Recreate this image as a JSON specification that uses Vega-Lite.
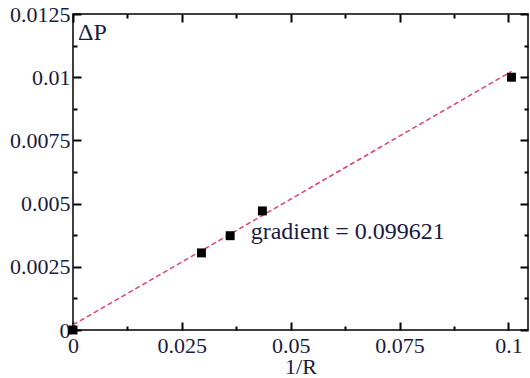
{
  "$schema": "https://vega.github.io/schema/vega-lite/v6.json",
  "width": 455,
  "height": 316,
  "autosize": {"type": "none"},
  "padding": {"left": 73, "top": 14, "right": 2, "bottom": 48},
  "background": "white",
  "resolve": {"axis": {"x": "independent", "y": "independent"}},
  "config": {
    "view": {"stroke": "black", "strokeWidth": 1.5},
    "font": "Liberation Serif",
    "axis": {
      "domain": false,
      "labelFont": "Liberation Serif",
      "labelFontSize": 22,
      "labelColor": "#1a1a40",
      "titleFont": "Liberation Serif",
      "titleFontSize": 22,
      "titleFontWeight": "normal",
      "titleColor": "#1a1a40",
      "grid": false
    }
  },
  "datasets": {
    "points": [
      {"x": 0.0, "y": 0.0},
      {"x": 0.0295, "y": 0.00305},
      {"x": 0.0361, "y": 0.00373},
      {"x": 0.0435, "y": 0.00471},
      {"x": 0.1007, "y": 0.0100}
    ],
    "fit": [
      {"x": 0.0, "y": 0.0002},
      {"x": 0.1007, "y": 0.01023}
    ],
    "labels": [
      {"x": 0.00115, "y": 0.01175, "text": "ΔP"},
      {"x": 0.0408, "y": 0.00388, "text": "gradient = 0.099621"}
    ]
  },
  "layer": [
    {
      "data": {"name": "fit"},
      "mark": {"type": "line", "color": "#e23d73", "strokeDash": [5, 3], "strokeWidth": 1.5},
      "encoding": {
        "x": {
          "field": "x", "type": "quantitative",
          "scale": {"domain": [0, 0.1045], "nice": false, "zero": false},
          "axis": {
            "orient": "bottom",
            "title": "1/R",
            "titlePadding": 0,
            "values": [0, 0.025, 0.05, 0.075, 0.1],
            "format": ".4~f",
            "offset": -8,
            "ticks": true,
            "tickColor": "black",
            "tickWidth": 2,
            "tickSize": 8,
            "labelPadding": 5,
            "labelFlush": false
          }
        },
        "y": {
          "field": "y", "type": "quantitative",
          "scale": {"domain": [0, 0.0125], "nice": false, "zero": false},
          "axis": {
            "orient": "left",
            "title": null,
            "values": [0, 0.0025, 0.005, 0.0075, 0.01, 0.0125],
            "format": ".4~f",
            "offset": -8,
            "ticks": true,
            "tickColor": "black",
            "tickWidth": 2,
            "tickSize": 8,
            "labelPadding": 3,
            "labelFlush": false
          }
        }
      }
    },
    {
      "data": {"name": "points"},
      "mark": {"type": "square", "color": "black", "opacity": 0, "size": 1},
      "encoding": {
        "x": {
          "field": "x", "type": "quantitative",
          "axis": {"orient": "bottom", "title": null, "values": [0.0125, 0.0375, 0.0625, 0.0875], "offset": -4, "ticks": true, "tickColor": "black", "tickWidth": 2, "tickSize": 4, "labels": false}
        },
        "y": {
          "field": "y", "type": "quantitative",
          "axis": {"orient": "left", "title": null, "values": [0.00125, 0.00375, 0.00625, 0.00875, 0.01125], "offset": -4, "ticks": true, "tickColor": "black", "tickWidth": 2, "tickSize": 4, "labels": false}
        }
      }
    },
    {
      "data": {"name": "points"},
      "mark": {"type": "square", "color": "black", "opacity": 0, "size": 1},
      "encoding": {
        "x": {
          "field": "x", "type": "quantitative",
          "axis": {"orient": "top", "title": null, "values": [0.0125, 0.0375, 0.0625, 0.0875], "offset": -4, "ticks": true, "tickColor": "black", "tickWidth": 2, "tickSize": 4, "labels": false}
        },
        "y": {
          "field": "y", "type": "quantitative",
          "axis": {"orient": "right", "title": null, "values": [0.00125, 0.00375, 0.00625, 0.00875, 0.01125], "offset": -4, "ticks": true, "tickColor": "black", "tickWidth": 2, "tickSize": 4, "labels": false}
        }
      }
    },
    {
      "data": {"name": "points"},
      "mark": {"type": "square", "color": "black", "opacity": 1, "size": 80},
      "encoding": {
        "x": {
          "field": "x", "type": "quantitative",
          "axis": {"orient": "top", "title": null, "values": [0, 0.025, 0.05, 0.075, 0.1], "offset": -8, "ticks": true, "tickColor": "black", "tickWidth": 2, "tickSize": 8, "labels": false}
        },
        "y": {
          "field": "y", "type": "quantitative",
          "axis": {"orient": "right", "title": null, "values": [0, 0.0025, 0.005, 0.0075, 0.01, 0.0125], "offset": -8, "ticks": true, "tickColor": "black", "tickWidth": 2, "tickSize": 8, "labels": false}
        }
      }
    },
    {
      "data": {"name": "labels"},
      "mark": {"type": "text", "align": "left", "baseline": "middle", "font": "Liberation Serif", "fontSize": 24, "color": "#1a1a40"},
      "encoding": {
        "x": {"field": "x", "type": "quantitative", "axis": null},
        "y": {"field": "y", "type": "quantitative", "axis": null},
        "text": {"field": "text"}
      }
    }
  ]
}
